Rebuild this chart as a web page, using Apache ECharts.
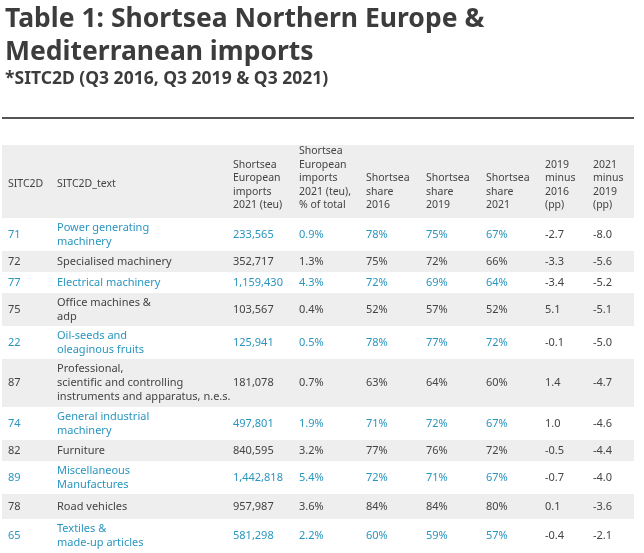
<!DOCTYPE html>
<html><head><meta charset="utf-8">
<script src="https://cdn.jsdelivr.net/npm/echarts@6/dist/echarts.min.js"></script>
<style>html,body{margin:0;padding:0;background:#fff}#main{width:644px;height:553px}</style>
</head><body><div id="main"></div>
<script>
var headers = ['SITC2D', 'SITC2D_text', 'Shortsea\nEuropean\nimports\n2021 (teu)', 'Shortsea\nEuropean\nimports\n2021 (teu),\n% of total',
  'Shortsea\nshare\n2016', 'Shortsea\nshare\n2019', 'Shortsea\nshare\n2021', '2019\nminus\n2016\n(pp)', '2021\nminus\n2019\n(pp)'];
var codes = ['71', '72', '77', '75', '22', '87', '74', '82', '89', '78', '65'];
var names = ['Power generating\nmachinery', 'Specialised machinery', 'Electrical machinery', 'Office machines &\nadp',
  'Oil-seeds and\noleaginous fruits', 'Professional,\nscientific and controlling\ninstruments and apparatus, n.e.s.',
  'General industrial\nmachinery', 'Furniture', 'Miscellaneous\nManufactures', 'Road vehicles', 'Textiles &\nmade-up articles'];
var imports2021 = ['233,565', '352,717', '1,159,430', '103,567', '125,941', '181,078', '497,801', '840,595', '1,442,818', '957,987', '581,298'];
var pctTotal = ['0.9%', '1.3%', '4.3%', '0.4%', '0.5%', '0.7%', '1.9%', '3.2%', '5.4%', '3.6%', '2.2%'];
var share2016 = ['78%', '75%', '72%', '52%', '78%', '63%', '71%', '77%', '72%', '84%', '60%'];
var share2019 = ['75%', '72%', '69%', '57%', '77%', '64%', '72%', '76%', '71%', '84%', '59%'];
var share2021 = ['67%', '66%', '64%', '52%', '72%', '60%', '67%', '72%', '67%', '80%', '57%'];
var diff1916 = ['-2.7', '-3.3', '-3.4', '5.1', '-0.1', '1.4', '1.0', '-0.5', '-0.7', '0.1', '-0.4'];
var diff2119 = ['-8.0', '-5.6', '-5.2', '-5.1', '-5.0', '-4.7', '-4.6', '-4.4', '-4.0', '-3.6', '-2.1'];

var colX = [8, 57, 233, 299, 366, 426, 486, 545, 593];
var teal = '#2a96c0', grey = '#444', stripe = '#eeeeee';
var font = '"Noto Sans", sans-serif';
var els = [];
els.push({type: 'text', left: 5, top: 3, style: {text: 'Table 1: Shortsea Northern Europe &\nMediterranean imports', font: 'bold 26.5px ' + font, fill: '#3c3c3c', lineHeight: 33}});
els.push({type: 'text', left: 5, top: 70, style: {text: '*SITC2D (Q3 2016, Q3 2019 & Q3 2021)', font: 'bold 17.5px ' + font, fill: '#3c3c3c'}});
els.push({type: 'rect', shape: {x: 2, y: 117, width: 632, height: 2}, style: {fill: '#555'}});
// header
var hTop = 145, hBot = 218;
els.push({type: 'rect', shape: {x: 2, y: hTop, width: 632, height: hBot - hTop}, style: {fill: stripe}});
headers.forEach(function (h, i) {
  els.push({type: 'text', x: colX[i], y: i < 2 ? 184 : (hBot - 6), style: {text: h, font: '10.5px ' + font, fill: grey, lineHeight: 13.5, verticalAlign: i < 2 ? 'middle' : 'bottom'}});
});
var y = hBot;
codes.forEach(function (c, r) {
  var lines = names[r].split('\n').length;
  var h = lines === 1 ? (r >= 9 ? 25 : 21) : lines === 2 ? 33 : 48;
  if (r % 2 === 1) els.push({type: 'rect', shape: {x: 2, y: y, width: 632, height: h}, style: {fill: stripe}});
  var cy = y + h / 2;
  var col = r % 2 === 0 ? teal : grey;
  var vals = [c, names[r], imports2021[r], pctTotal[r], share2016[r], share2019[r], share2021[r], diff1916[r], diff2119[r]];
  vals.forEach(function (v, i) {
    els.push({type: 'text', x: colX[i], y: cy, style: {text: v, font: '11px ' + font, fill: i < 7 ? col : grey, lineHeight: 14, verticalAlign: 'middle'}});
  });
  y += h;
});
var chart = echarts.init(document.getElementById('main'));
chart.setOption({graphic: {elements: els}});
</script></body></html>
